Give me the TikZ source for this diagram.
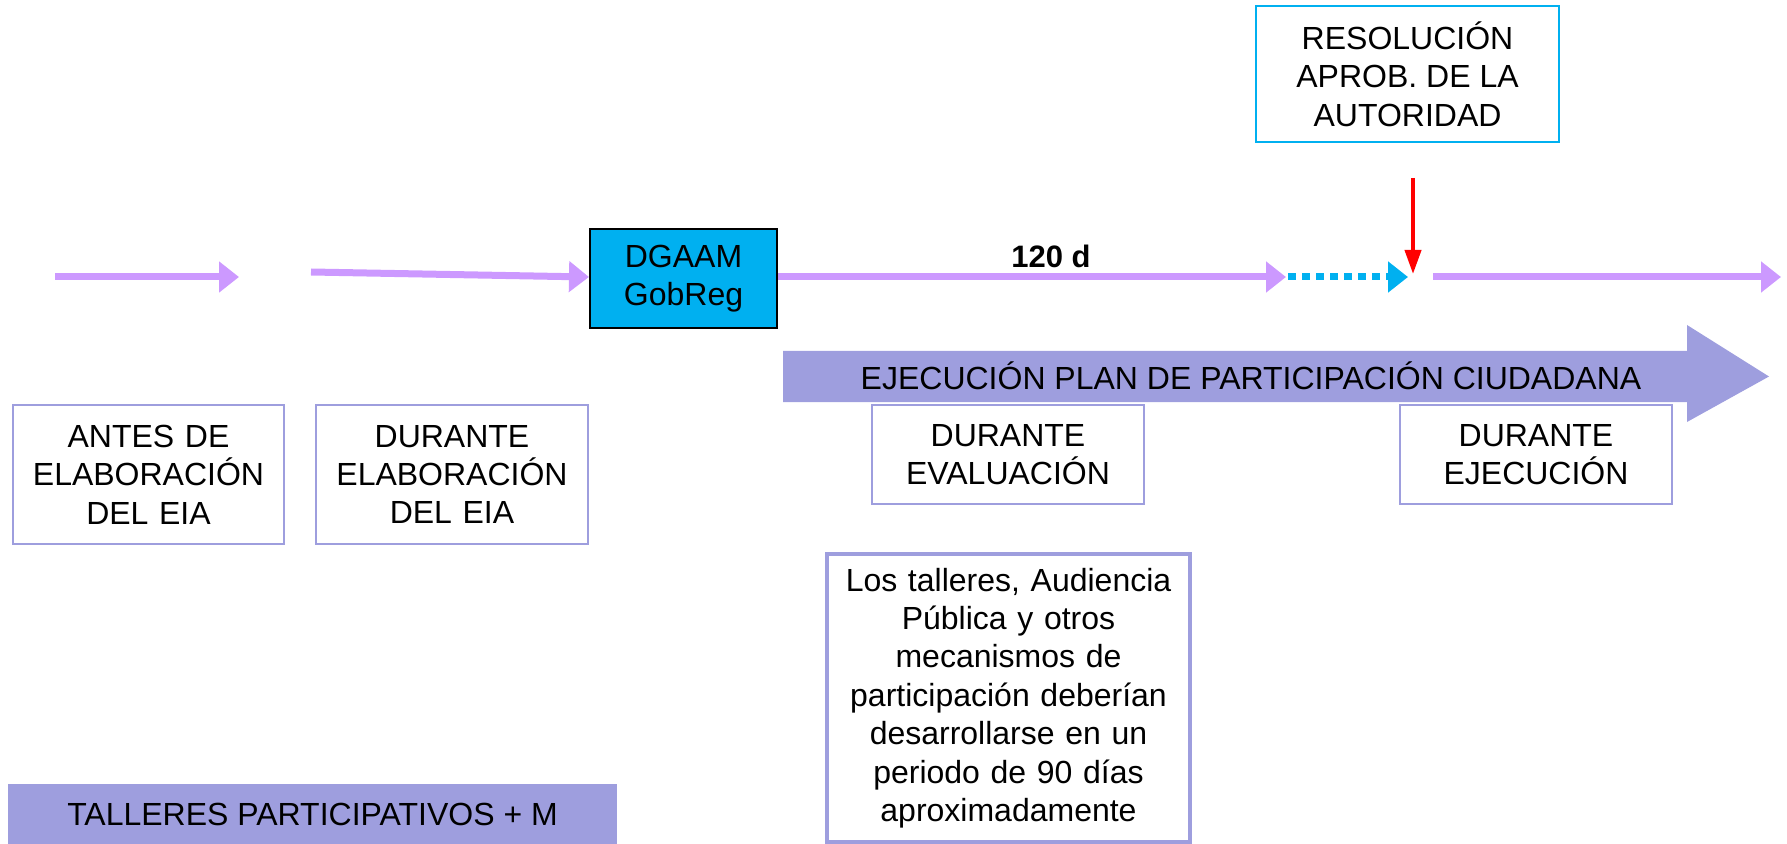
\documentclass[tikz,border=0pt]{standalone}
\usepackage{fontspec}
\setmainfont{Liberation Sans}
\usetikzlibrary{arrows.meta}
\definecolor{lilac}{RGB}{204,153,255}
\definecolor{lav}{RGB}{158,158,222}
\definecolor{cyanb}{RGB}{0,176,240}
\tikzset{
  txt/.style={font=\fontsize{16}{19.2}\selectfont, align=center, inner sep=0pt},
  phase/.style={txt, draw=lav, line width=1.2pt, text width=130pt, minimum height=69.5pt},
  flow/.style={draw=lilac, line width=3.5pt, -{Triangle[length=10pt,width=15pt]}},
}
\begin{document}
\begin{tikzpicture}[x=0.5pt,y=-0.5pt]
\useasboundingbox (0,0) rectangle (1787,844);
% nodes
\node[txt, draw=black, line width=1pt, fill=cyanb, minimum width=93.5pt, minimum height=49.5pt] (dga) at (683.5,278.5) {DGAAM\\GobReg};
\node[txt, draw=cyanb, line width=1pt, minimum width=151.5pt, minimum height=68pt] (res) at (1407.5,74) {RESOLUCIÓN\\APROB. DE LA\\AUTORIDAD};
\node[phase, minimum width=135.5pt] (antes) at (148.5,474.5) {ANTES DE\\ELABORACIÓN\\DEL EIA};
\node[phase, minimum width=136pt] (delab) at (452,474.5) {DURANTE\\ELABORACIÓN\\DEL EIA};
\node[phase, minimum width=136pt, minimum height=49.5pt] (deval) at (1008,454.5) {DURANTE\\EVALUACIÓN};
\node[phase, minimum width=136pt, minimum height=49.5pt] (dejec) at (1536,454.5) {DURANTE\\EJECUCIÓN};
\node[txt, draw=lav, line width=1.8pt, minimum width=181.5pt, minimum height=144pt, text width=175pt] (talleres) at (1008.5,698) {Los talleres, Audiencia\\Pública y otros\\mecanismos de\\participación deberían\\desarrollarse en un\\periodo de 90 días\\aproximadamente};
% bottom bar
\fill[lav] (8,784) rectangle (617,844);
\node[txt] (bar) at (312.5,814) {TALLERES PARTICIPATIVOS + M};
% big arrow
\fill[lav] (783,351) -- (1687,351) -- (1687,325) -- (1769,376.5) -- (1687,422) -- (1687,402) -- (783,402) -- cycle;
\node[txt] (ejec) at (1251,376) {EJECUCIÓN PLAN DE PARTICIPACIÓN CIUDADANA};
% timeline
\coordinate (a1s) at (55,277);
\coordinate (a1e) at (239,277);
\coordinate (a2s) at (311,272);
\coordinate (a3e) at (1286,277);
\coordinate (a5s) at (1288,277);
\coordinate (a5e) at (1408,277);
\coordinate (r1) at (1413,178);
\coordinate (r2) at (1413,274);
\coordinate (a4s) at (1433,277);
\coordinate (a4e) at (1781,277);
\draw[flow] (a1s) -- (a1e);
\draw[flow] (a2s) -- (dga.west |- 0,277);
\draw[flow] (dga.east |- 0,277) -- (a3e);
\node[anchor=base, inner sep=0pt, font=\bfseries\fontsize{15.5}{18}\selectfont] (d120) at (1051,268) {120 d};
\draw[draw=cyanb, line width=3.5pt, dash pattern=on 4pt off 3pt, -{Triangle[length=10pt,width=15pt]}] (a5s) -- (a5e);
\draw[flow] (a4s) -- (a4e);
\draw[draw=red, line width=2pt, -{Triangle[length=12pt,width=8pt]}] (r1) -- (r2);
\end{tikzpicture}
\end{document}
